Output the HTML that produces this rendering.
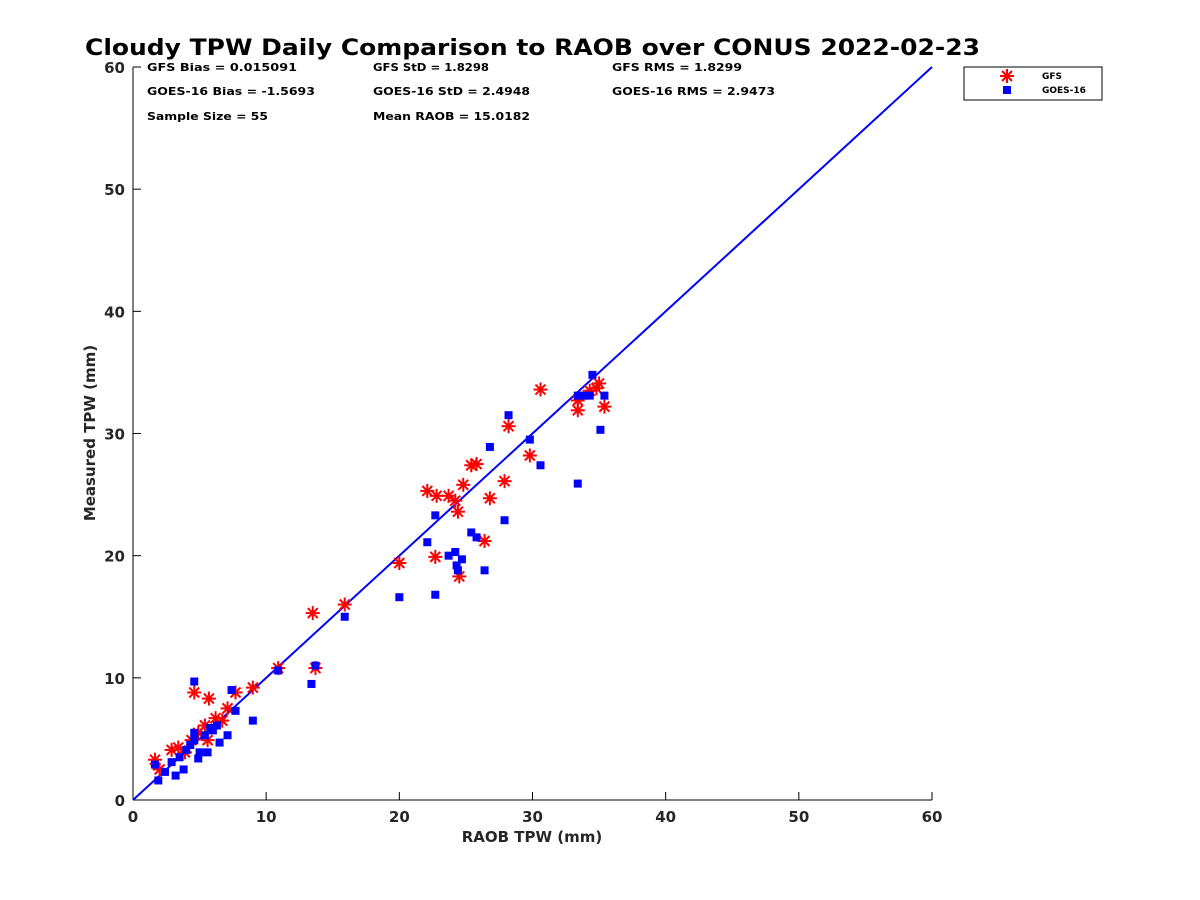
<!DOCTYPE html>
<html><head><meta charset="utf-8"><style>
body{margin:0;background:#fff}
svg{display:block;font-family:"DejaVu Sans","Liberation Sans",sans-serif;font-weight:bold}
</style></head><body>
<svg id="chart" width="1200" height="900" viewBox="0 0 1200 900" xmlns="http://www.w3.org/2000/svg">
<rect width="1200" height="900" fill="#fff"/>
<text x="85" y="55" font-size="22" textLength="895" lengthAdjust="spacingAndGlyphs" fill="#000">Cloudy TPW Daily Comparison to RAOB over CONUS 2022-02-23</text>
<g id="axes"></g>
<g id="marks"></g>
<g font-size="11" fill="#000">
<text x="147" y="71" textLength="150" lengthAdjust="spacingAndGlyphs">GFS Bias = 0.015091</text>
<text x="373" y="71" textLength="116" lengthAdjust="spacingAndGlyphs">GFS StD = 1.8298</text>
<text x="612" y="71" textLength="130" lengthAdjust="spacingAndGlyphs">GFS RMS = 1.8299</text>
<text x="147" y="95" textLength="168" lengthAdjust="spacingAndGlyphs">GOES-16 Bias = -1.5693</text>
<text x="373" y="95" textLength="157" lengthAdjust="spacingAndGlyphs">GOES-16 StD = 2.4948</text>
<text x="612" y="95" textLength="163" lengthAdjust="spacingAndGlyphs">GOES-16 RMS = 2.9473</text>
<text x="147" y="120" textLength="121" lengthAdjust="spacingAndGlyphs">Sample Size = 55</text>
<text x="373" y="120" textLength="157" lengthAdjust="spacingAndGlyphs">Mean RAOB = 15.0182</text>
</g>
<g>
<rect x="964" y="67" width="138" height="33" fill="#fff" stroke="#000" stroke-width="1"/>
<g>
<g stroke="#f00" stroke-width="2"><line x1="1007" y1="69" x2="1007" y2="83"/><line x1="1000" y1="76" x2="1014" y2="76"/><line x1="1002" y1="71" x2="1012" y2="81"/><line x1="1002" y1="81" x2="1012" y2="71"/></g>
<text x="1042" y="79" font-size="9">GFS</text></g>
<g>
<rect x="1003" y="86" width="8" height="8" fill="#00f"/>
<text x="1042" y="93" font-size="9">GOES-16</text></g>
</g>
</svg>
<script>
const ticks=[0,10,20,30,40,50,60];
const raobGfs=[1.65,2.0,2.9,3.4,3.9,4.4,4.6,4.9,5.4,5.7,5.6,6.2,6.7,7.1,7.7,9.0,10.9,13.5,13.7,15.9,20.0,22.1,22.8,22.7,23.7,24.2,24.4,24.5,24.8,25.4,25.8,26.4,26.8,27.9,28.2,29.8,30.6,33.4,33.4,34.3,35.0,35.4,34.8];
const gfsVals=[3.3,2.5,4.1,4.3,3.9,4.9,8.8,5.5,6.1,8.3,4.9,6.7,6.5,7.5,8.8,9.2,10.8,15.3,10.8,16.0,19.4,25.3,24.9,19.9,24.9,24.5,23.6,18.3,25.8,27.4,27.5,21.2,24.7,26.1,30.6,28.2,33.6,31.9,32.7,33.5,34.1,32.2,33.7];
const raobGoes=[1.65,1.9,2.4,3.2,2.9,3.8,3.5,4.0,4.3,4.6,4.6,4.6,4.9,5.0,5.4,5.6,5.8,6.0,6.3,6.5,7.1,7.4,7.7,9.0,10.9,13.4,13.7,15.9,20.0,22.1,22.7,22.7,23.7,24.2,24.3,24.4,24.7,25.4,25.8,26.4,26.8,27.9,28.2,29.8,30.6,33.4,33.4,33.9,34.3,34.5,35.4,35.1];
const goesVals=[2.9,1.6,2.3,2.0,3.1,2.5,3.5,4.1,4.5,4.9,9.7,5.5,3.4,3.9,5.3,3.9,5.9,5.7,6.1,4.7,5.3,9.0,7.3,6.5,10.6,9.5,11.0,15.0,16.6,21.1,23.3,16.8,20.0,20.3,19.2,18.8,19.7,21.9,21.5,18.8,28.9,22.9,31.5,29.5,27.4,25.9,33.1,33.1,33.1,34.8,33.1,30.3];
const X0=133,X1=932,Y0=800,Y1=67;
const sx=v=>X0+(X1-X0)*v/60, sy=v=>Y0-(Y0-Y1)*v/60;
const NS='http://www.w3.org/2000/svg';
function mk(tag,attrs,parent){const e=document.createElementNS(NS,tag);for(const k in attrs)e.setAttribute(k,attrs[k]);parent.appendChild(e);return e;}
const axes=document.getElementById('axes'),marks=document.getElementById('marks');
const xa=mk('line',{x1:X0,y1:Y0,x2:X1,y2:Y0,stroke:'#000','stroke-width':1},axes);


const ya=mk('line',{x1:X0,y1:Y0,x2:X0,y2:Y1,stroke:'#000','stroke-width':1},axes);


ticks.forEach(t=>{
  mk('line',{x1:sx(t),y1:Y0,x2:sx(t),y2:Y0-8,stroke:'#000'},axes);
  mk('line',{x1:X0,y1:sy(t),x2:X0+8,y2:sy(t),stroke:'#000'},axes);
  const tx=mk('text',{x:sx(t),y:Y0+22,'font-size':15,'text-anchor':'middle',fill:'#262626'},axes);tx.textContent=t;
  
  
  const ty=mk('text',{x:X0-8,y:sy(t)+6,'font-size':15,'text-anchor':'end',fill:'#262626'},axes);ty.textContent=t;
  
  
});
const xt=mk('text',{x:532,y:842,'font-size':15,'text-anchor':'middle',fill:'#262626'},axes);xt.textContent='RAOB TPW (mm)';


const yt=mk('text',{x:95,y:433,'font-size':15,'text-anchor':'middle',fill:'#262626',transform:'rotate(-90 95 433)'},axes);yt.textContent='Measured TPW (mm)';


const ol=mk('line',{x1:sx(0),y1:sy(0),x2:sx(60),y2:sy(60),stroke:'#00f','stroke-width':2},marks);


raobGfs.forEach((x,i)=>{
  const cx=sx(x),cy=sy(gfsVals[i]),r=7,d=5;
  const g=mk('g',{stroke:'#f00','stroke-width':2},marks);
  
  
  mk('line',{x1:cx,y1:cy-r,x2:cx,y2:cy+r},g);
  mk('line',{x1:cx-r,y1:cy,x2:cx+r,y2:cy},g);
  mk('line',{x1:cx-d,y1:cy-d,x2:cx+d,y2:cy+d},g);
  mk('line',{x1:cx-d,y1:cy+d,x2:cx+d,y2:cy-d},g);
});
raobGoes.forEach((x,i)=>{
  const s=mk('rect',{x:sx(x)-4,y:sy(goesVals[i])-4,width:8,height:8,fill:'#00f'},marks);
  
  
});
</script>
</body></html>
